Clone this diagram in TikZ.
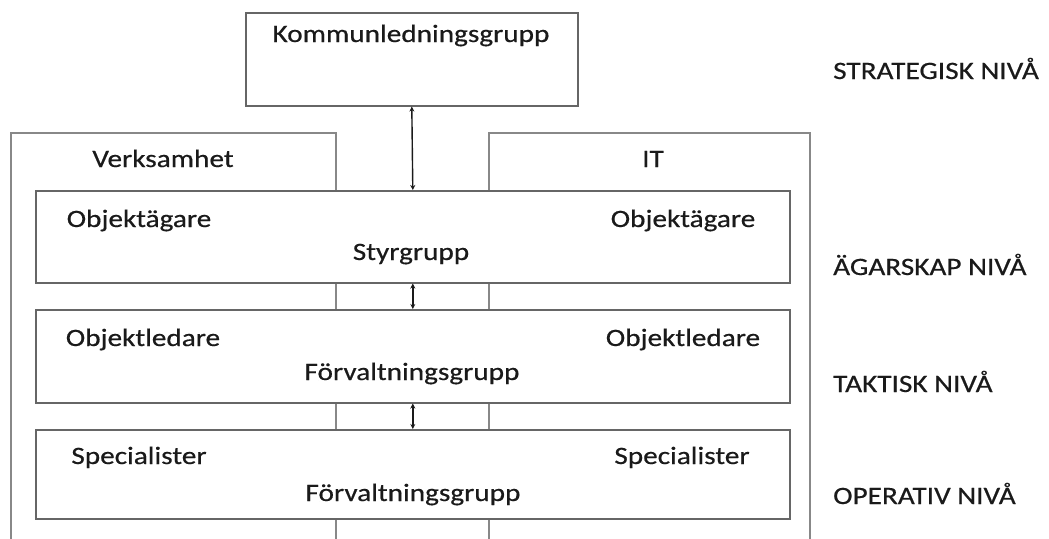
\documentclass[tikz,border=0pt]{standalone}
\usepackage{fontspec}
\setmainfont[FakeStretch=1.17,FakeBold=0.5]{Carlito}
\usetikzlibrary{arrows.meta}
\definecolor{boxgray}{HTML}{666666}
\definecolor{colgray}{HTML}{888888}
\definecolor{ink}{HTML}{1A1A1A}
\begin{document}
\begin{tikzpicture}[x=1pt,y=-1pt,
  box/.style={draw=boxgray, line width=1.6pt, fill=white, inner sep=0pt, anchor=north west},
  colbox/.style={draw=colgray, line width=1.5pt, inner sep=0pt, anchor=north west},
  txt/.style={text=ink, inner sep=0pt, anchor=base, font=\fontsize{25}{30}\selectfont},
  lbl/.style={text=ink, inner sep=0pt, anchor=base west, font=\fontsize{25}{30}\selectfont},
  arr/.style={draw=ink, line width=1.4pt, {Stealth[length=5pt,width=5pt]}-{Stealth[length=5pt,width=5pt]}}
]
\useasboundingbox (0,0) rectangle (1049,538);
\clip (0,0) rectangle (1049,538);
\fill[white] (0,0) rectangle (1049,538);

% columns
\node[colbox, minimum width=325pt, minimum height=450pt] (verk) at (10,132) {};
\node[colbox, minimum width=321pt, minimum height=450pt] (it) at (488,132) {};
\node[txt] (verkt) at (163,167) {Verksamhet};
\node[txt] (itt) at (653,167) {IT};

% top box
\node[box, minimum width=332pt, minimum height=93pt] (top) at (245,12) {};
\node[txt] (topt) at (411,42) {Kommunledningsgrupp};

% level boxes
\node[box, minimum width=754pt, minimum height=92pt] (styr) at (35,190) {};
\node[box, minimum width=754pt, minimum height=93pt] (takt) at (35,309) {};
\node[box, minimum width=754pt, minimum height=89pt] (oper) at (35,429) {};

\node[txt] (styrl) at (139,227) {Objektägare};
\node[txt] (styrr) at (683,227) {Objektägare};
\node[txt] (styrc) at (411,260) {Styrgrupp};

\node[txt] (taktl) at (143,346) {Objektledare};
\node[txt] (taktr) at (683,346) {Objektledare};
\node[txt] (taktc) at (412,380) {Förvaltningsgrupp};

\node[txt] (operl) at (139,464) {Specialister};
\node[txt] (operr) at (682,464) {Specialister};
\node[txt] (operc) at (413,501) {Förvaltningsgrupp};

% connectors
\draw[arr] (top.south) -- (styr.north);
\draw[arr] (styr.south) -- (takt.north);
\draw[arr] (takt.south) -- (oper.north);

% level labels
\node[lbl] (l1) at (833,79) {STRATEGISK NIVÅ};
\node[lbl] (l2) at (833,275) {ÄGARSKAP NIVÅ};
\node[lbl] (l3) at (833,392) {TAKTISK NIVÅ};
\node[lbl] (l4) at (833,504) {OPERATIV NIVÅ};
\end{tikzpicture}
\end{document}
